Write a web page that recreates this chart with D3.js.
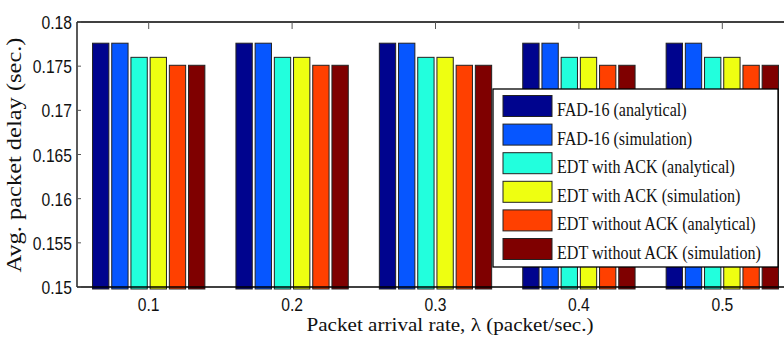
<!DOCTYPE html>
<html>
<head>
<meta charset="utf-8">
<script src="https://cdn.jsdelivr.net/npm/d3@7"></script>
<style>
  html, body { margin: 0; padding: 0; background: #fff; }
  svg { display: block; }
</style>
</head>
<body>
<svg id="chart" width="784" height="343"></svg>
<script>
// Arrival rates on the x axis
const rates = [0.1, 0.2, 0.3, 0.4, 0.5];
// Scheme / method names (legend order)
const seriesNames = [
  "FAD-16 (analytical)",
  "FAD-16 (simulation)",
  "EDT with ACK (analytical)",
  "EDT with ACK (simulation)",
  "EDT without ACK (analytical)",
  "EDT without ACK (simulation)"
];
const seriesColors = ["#00048e", "#0656ff", "#22ffdd", "#eeff11", "#ff4000", "#7f0000"];
// Average packet delay (sec.) per series, one value per arrival rate
const fad16Analytical   = [0.1776, 0.1776, 0.1776, 0.1776, 0.1776];
const fad16Simulation   = [0.1776, 0.1776, 0.1776, 0.1776, 0.1776];
const edtAckAnalytical  = [0.1760, 0.1760, 0.1760, 0.1760, 0.1760];
const edtAckSimulation  = [0.1760, 0.1760, 0.1760, 0.1760, 0.1760];
const edtNoAckAnalytical = [0.1751, 0.1751, 0.1751, 0.1751, 0.1751];
const edtNoAckSimulation = [0.1751, 0.1751, 0.1751, 0.1751, 0.1751];
const seriesValues = [fad16Analytical, fad16Simulation, edtAckAnalytical,
                      edtAckSimulation, edtNoAckAnalytical, edtNoAckSimulation];
const yTicks = [0.15, 0.155, 0.16, 0.165, 0.17, 0.175, 0.18];
const xTickLabels = ["0.1", "0.2", "0.3", "0.4", "0.5"];

const svg = d3.select("#chart");
const plot = { left: 77, top: 22, bottom: 287, right: 794 };
const sx = 0.87; // horizontal text compression

const x = d3.scaleLinear().domain([0.05, 0.55]).range([plot.left, plot.right]);
const y = d3.scaleLinear().domain([0.15, 0.18]).range([plot.bottom, plot.top]);
const xSub = d3.scaleBand().domain(d3.range(seriesNames.length))
  .range([-57.6, 57.6]).paddingInner(0.15).paddingOuter(0.075);

// Bars
const groups = svg.append("g").selectAll("g").data(rates).join("g")
  .attr("transform", d => `translate(${x(d)},0)`);
groups.selectAll("rect")
  .data((d, i) => seriesValues.map((vals, s) => ({ s, v: vals[i] })))
  .join("rect")
  .attr("x", d => xSub(d.s))
  .attr("width", xSub.bandwidth())
  .attr("y", d => y(d.v))
  .attr("height", d => y(0.15) - y(d.v) + 2)
  .attr("fill", d => seriesColors[d.s])
  .attr("stroke", "#222")
  .attr("stroke-width", 1);

// Axes frame
const frame = svg.append("g").attr("stroke", "#000").attr("fill", "none");
frame.append("line").attr("x1", plot.left).attr("x2", 784).attr("y1", plot.top).attr("y2", plot.top).attr("stroke-width", 1.3);
frame.append("line").attr("x1", plot.left).attr("x2", 784).attr("y1", plot.bottom).attr("y2", plot.bottom).attr("stroke-width", 1.6);
frame.append("line").attr("x1", plot.left).attr("x2", plot.left).attr("y1", plot.top).attr("y2", plot.bottom).attr("stroke-width", 1.3);

// Inward ticks
const tickG = svg.append("g").attr("stroke", "#555").attr("stroke-width", 1);
rates.forEach(r => {
  tickG.append("line").attr("x1", x(r)).attr("x2", x(r)).attr("y1", plot.top).attr("y2", plot.top + 7);
});
yTicks.forEach(t => {
  tickG.append("line").attr("x1", plot.left).attr("x2", plot.left + 4).attr("y1", y(t)).attr("y2", y(t));
});

// Tick labels
const sans = "'Liberation Sans', Arial, sans-serif";
const serif = "'Liberation Serif', 'Times New Roman', serif";
svg.append("g").selectAll("text").data(yTicks).join("text")
  .attr("transform", d => `translate(72,${y(d) + 7}) scale(${sx},1)`)
  .attr("text-anchor", "end")
  .attr("font-family", sans).attr("font-size", 18).attr("fill", "#111")
  .text(d => d3.format("")(+d.toFixed(3)));
svg.append("g").selectAll("text").data(rates).join("text")
  .attr("transform", d => `translate(${x(d)},311) scale(${sx},1)`)
  .attr("text-anchor", "middle")
  .attr("font-family", sans).attr("font-size", 18).attr("fill", "#111")
  .text((d, i) => xTickLabels[i]);

// Axis titles
svg.append("text")
  .attr("x", 450).attr("y", 331)
  .attr("text-anchor", "middle")
  .attr("font-family", serif).attr("font-size", 18.5).attr("fill", "#111")
  .attr("textLength", 287).attr("lengthAdjust", "spacingAndGlyphs")
  .text("Packet arrival rate, λ (packet/sec.)");
svg.append("text")
  .attr("transform", "translate(21,155) rotate(-90)")
  .attr("text-anchor", "middle")
  .attr("font-family", serif).attr("font-size", 20.5).attr("fill", "#111")
  .attr("textLength", 235).attr("lengthAdjust", "spacingAndGlyphs")
  .text("Avg. packet delay (sec.)");

// Legend
const legend = svg.append("g");
legend.append("rect")
  .attr("x", 493).attr("y", 89).attr("width", 285).attr("height", 178)
  .attr("fill", "#fff").attr("stroke", "#000").attr("stroke-width", 1.3);
const items = legend.selectAll("g.item").data(seriesNames).join("g")
  .attr("class", "item")
  .attr("transform", (d, i) => `translate(0,${95.5 + i * 28.6})`);
items.append("rect")
  .attr("x", 503).attr("y", 0).attr("width", 49).attr("height", 21)
  .attr("fill", (d, i) => seriesColors[i])
  .attr("stroke", "#222").attr("stroke-width", 1);
items.append("text")
  .attr("transform", `translate(557,20.5) scale(${sx},1)`)
  .attr("font-family", serif).attr("font-size", 18.5).attr("fill", "#111")
  .text(d => d);
</script>
</body>
</html>
